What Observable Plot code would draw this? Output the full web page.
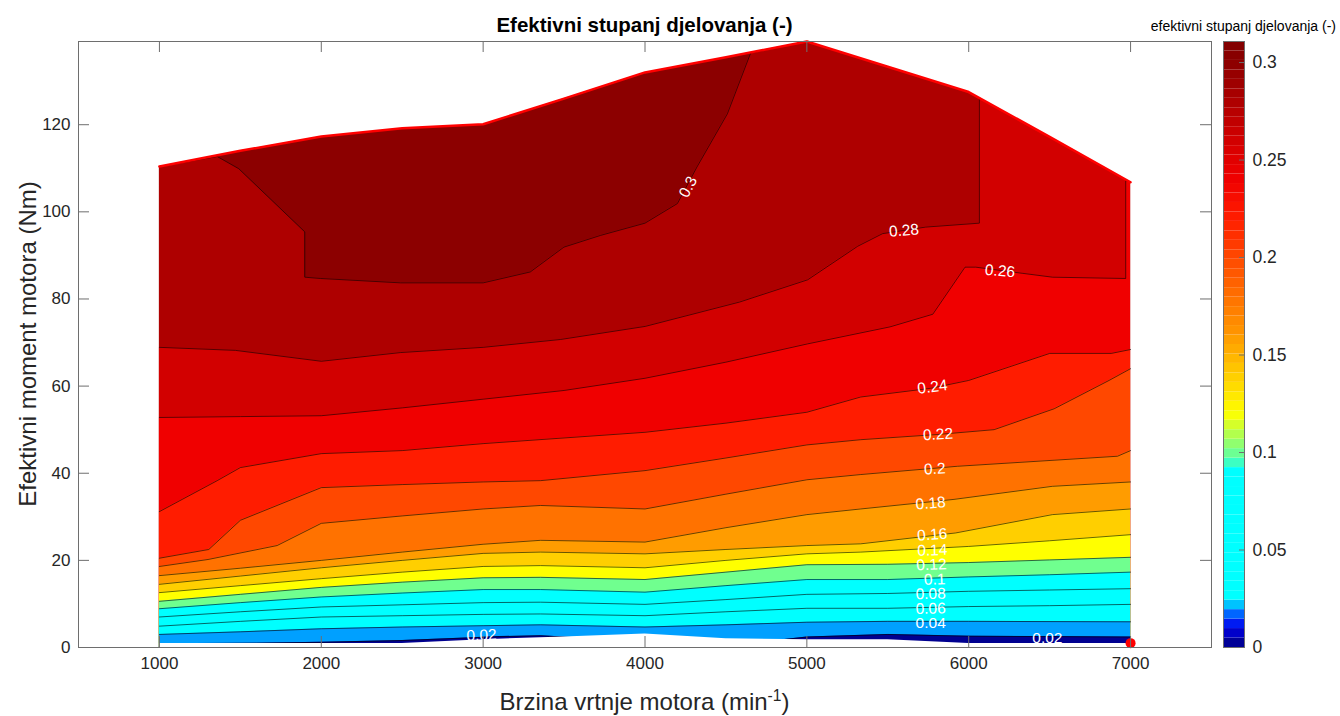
<!DOCTYPE html>
<html><head><meta charset="utf-8">
<script src="https://cdn.jsdelivr.net/npm/d3@7"></script>
<script src="https://cdn.jsdelivr.net/npm/@observablehq/plot@0.6"></script>
<style>
html,body{margin:0;padding:0;background:#fff;overflow:hidden;}
#fig{position:relative;width:1340px;height:716px;font-family:"Liberation Sans",Arial,Helvetica,sans-serif;color:#000;}
#fig .abs{position:absolute;white-space:nowrap;line-height:1;}
#fig svg{position:absolute;top:0;}
</style></head><body>
<div id="fig"></div>
<script>
// ---- data ----
const speedTicks = [1000,2000,3000,4000,5000,6000,7000];
const torqueTicks = [0,20,40,60,80,100,120];
const cbTicks = [0,0.05,0.1,0.15,0.2,0.25,0.3];
const levels = [0.02,0.04,0.06,0.08,0.10,0.12,0.14,0.16,0.18,0.20,0.22,0.24,0.26,0.28,0.30];
const bandColors = ["#000090","#00a0ff","#00ffff","#00ffff","#00ffff","#70ff8f","#ffff00","#ffcf00","#ff9c00","#ff7200","#ff4800","#ff1c00","#f00000","#d20000","#ae0000","#8c0000"];
const cbStops  = [0,0.005,0.01,0.015,0.02,0.025,0.09,0.095,0.1,0.12,0.14,0.16,0.18,0.2,0.22,0.24,0.26,0.28,0.3,0.311];
const cbColors = ["#000080","#0000b0","#0000e8","#0040ff","#00a0ff","#00ffff","#00ffff","#40ffbf","#70ff8f","#ffff00","#ffcc00","#ff9900","#ff7000","#ff4800","#ff1c00","#f00000","#d20000","#ae0000","#8c0000","#800000"];

// maximum torque curve (red line)
const envSpeed  = [1000,1500,2000,2500,3000,3500,4000,4500,5000,5500,6000,6500,7000];
const envTorque = [110.4,114.0,117.3,119.2,120.1,126.0,132.0,135.5,139.1,133.3,127.5,117.2,106.8];
// lowest measured torque (lower edge of the map)
const minSpeed  = [1000,2500,3000,3500,4000,4500,5000,5500,6000,7000];
const minTorque = [0.9,0.9,1.8,2.4,3.1,2.0,1.8,1.8,0.9,0.9];

// contour lines [speed, torque]
const iso002 = [[1000,0.3],[1200,0.9],[1600,1.0],[2000,1.2],[2500,1.6],[2900,2.2],[3100,2.5],[3355,2.7],[3550,2.3],[4000,2.0],[4500,1.5],[4850,1.8],[5000,2.4],[5500,3.0],[6000,2.6],[6500,2.5],[7000,2.4]];
const iso004 = [[1000,3.0],[1500,3.6],[2000,4.3],[2500,4.7],[3000,5.0],[3355,5.2],[4000,4.7],[4500,5.2],[5000,5.8],[5500,6.0],[6000,6.0],[7000,5.9]];
const iso006 = [[1000,4.9],[1500,6.0],[2000,7.0],[2500,7.3],[3000,7.6],[3355,7.7],[4000,7.3],[4500,8.2],[5000,9.0],[5500,9.0],[6000,9.4],[6500,9.6],[7000,9.9]];
const iso008 = [[1000,7.0],[1500,8.2],[2000,9.3],[2500,9.8],[3000,10.3],[3355,10.4],[4000,9.9],[4500,11.0],[5000,12.2],[5500,12.4],[6000,12.9],[6500,13.2],[7000,13.5]];
const iso010 = [[1000,8.9],[1500,10.3],[2000,11.6],[2500,12.5],[3000,13.3],[3355,13.3],[4000,12.7],[4500,14.2],[5000,15.6],[5500,15.6],[6000,16.2],[6500,16.7],[7000,17.3]];
const iso012 = [[1000,10.6],[1500,12.2],[2000,13.8],[2500,15.0],[3000,16.0],[3355,16.1],[4000,15.6],[4500,17.3],[5000,19.0],[5500,19.1],[6000,19.5],[6500,20.1],[7000,20.7]];
const iso014 = [[1000,12.6],[1500,14.2],[2000,15.8],[2500,17.3],[3000,18.6],[3355,18.8],[4000,18.3],[4500,20.0],[5000,21.5],[5333,21.9],[6000,23.2],[6500,24.5],[7000,25.9]];
const iso016 = [[1000,14.5],[1500,16.4],[2000,18.3],[2500,20.0],[3000,21.6],[3355,21.9],[4000,21.5],[4500,22.5],[5000,23.4],[5333,23.8],[5920,26.3],[6517,30.5],[7000,31.8]];
const iso018 = [[1000,16.5],[1500,18.2],[2000,20.0],[2500,21.9],[3000,23.7],[3355,24.6],[4000,24.2],[4500,27.5],[5000,30.5],[5333,31.8],[5909,34.0],[6517,37.0],[7000,38.0]];
const iso020 = [[1000,18.6],[1300,20.2],[1727,23.4],[2000,28.5],[2500,30.2],[3000,31.8],[3355,32.6],[4000,31.8],[4500,35.2],[5000,38.5],[5333,39.7],[5930,41.6],[6919,43.9],[7000,45.2]];
const iso022 = [[1000,20.5],[1305,22.5],[1500,29.2],[2000,36.7],[2500,37.4],[3000,38.0],[3355,38.3],[4000,40.6],[4500,43.5],[5000,46.5],[5333,47.7],[5810,48.9],[6157,50.0],[6528,54.8],[6867,61.3],[7000,64.0]];
const iso024 = [[1000,31.2],[1357,38.3],[1500,41.3],[2000,44.5],[2500,45.2],[3000,46.8],[4000,49.4],[4500,51.5],[5000,54.0],[5333,57.5],[5765,59.5],[6000,61.3],[6500,67.5],[6880,67.5],[7000,68.4]];
const iso026 = [[1000,52.8],[1500,53.0],[2000,53.2],[2500,55.0],[3000,57.0],[3500,59.0],[4000,61.8],[4500,65.5],[5005,69.7],[5514,73.6],[5778,76.5],[5977,87.3],[6043,87.3],[6330,85.9],[6518,85.0],[6970,84.7],[6970,107.2],[7000,106.8]];
const iso028 = [[1000,68.9],[1470,68.2],[2000,65.7],[2490,67.7],[3000,68.9],[3478,70.7],[4001,73.7],[4585,79.3],[5005,84.4],[5314,92.1],[5468,95.0],[5734,96.5],[6066,97.4],[6066,126.1],[6500,117.2],[7000,106.8]];
const iso030 = [[1000,110.4],[1357,112.7],[1490,109.9],[1898,95.4],[1898,85.0],[1995,84.7],[2490,83.7],[3000,83.7],[3291,86.2],[3499,91.9],[3726,94.6],[4000,97.4],[4200,101.9],[4321,110.3],[4509,122.5],[4653,136.5],[5000,139.1],[5500,133.3],[6000,127.5],[6500,117.2],[7000,106.8]];
const isolines = [iso002,iso004,iso006,iso008,iso010,iso012,iso014,iso016,iso018,iso020,iso022,iso024,iso026,iso028,iso030];

// inline contour labels
const labelText  = ["0.3","0.28","0.26","0.24","0.22","0.2","0.18","0.16","0.14","0.12","0.1","0.08","0.06","0.04","0.02","0.02"];
const labelSpeed = [4266,5600,6193,5776,5810,5790,5765,5775,5775,5770,5790,5765,5765,5765,6486,2990];
const labelTorque= [105.7,95.7,86.4,59.8,48.9,41.0,33.1,25.9,22.3,19.0,15.6,12.3,8.9,5.6,2.2,2.8];
const labelAngle = [-62,-5,5,-7,-3,-3,-5,-4,-2,-2,-1,-1,-1,0,0,-3];

const markerPoint = [[7000,1.0]];

// ---- layout ----
const W = 1340, H = 716, mL = 78, mR = 129, mT = 41, mB = 69;
const fw = W - mL - mR, fh = H - mT - mB, tick = 11;
const yTop = 139.1;
const axisCol = "#6e6e6e", textCol = "#262626";
const font = "Liberation Sans, Arial, Helvetica, sans-serif";

const env = envSpeed.map((s,i)=>({s, t: envTorque[i]}));
const bottom = minSpeed.map((s,i)=>({s, t: minTorque[i]}));
const labels = labelText.map((t,i)=>({t, s: labelSpeed[i], v: labelTorque[i], r: labelAngle[i]}));

const marks = [];
// region above the 0.30 contour
marks.push(Plot.areaY(env, {x:"s", y1: () => 0, y2:"t", fill: () => 0.305, clip:true}));
// bands, painted from the highest level down
for (let i = levels.length - 1; i >= 0; i--) {
  const mid = levels[i] - 0.01;
  marks.push(Plot.areaY(isolines[i], {x: d=>d[0], y1: () => 0, y2: d=>d[1], fill: () => mid, clip:true}));
}
for (let i = 0; i < levels.length; i++) {
  marks.push(Plot.line(isolines[i], {x: d=>d[0], y: d=>d[1], stroke:"#000", strokeWidth:0.6, clip:true}));
}
// blank outside the measured envelope
marks.push(Plot.areaY(env, {x:"s", y1:"t", y2: () => yTop + 5, fill:"white", clip:true}));
marks.push(Plot.areaY(bottom, {x:"s", y1: () => 0, y2:"t", fill:"white", clip:true}));
// max torque line and marker
marks.push(Plot.line(env, {x:"s", y:"t", stroke:"#ff0000", strokeWidth:2.5}));
marks.push(Plot.dot(markerPoint, {x: d=>d[0], y: d=>d[1], r:5, fill:"#ff0000"}));
// contour labels
marks.push(Plot.text(labels, {x:"s", y:"v", text:"t", rotate:"r", fill:"white", fontSize:15.5}));
// ticks (inward), frame, tick labels
marks.push(Plot.ruleX(speedTicks, {x: d=>d, insetTop: fh - tick, stroke: axisCol}));
marks.push(Plot.ruleX(speedTicks, {x: d=>d, insetBottom: fh - tick, stroke: axisCol}));
marks.push(Plot.ruleY(torqueTicks, {y: d=>d, insetRight: fw - tick, stroke: axisCol}));
marks.push(Plot.ruleY(torqueTicks, {y: d=>d, insetLeft: fw - tick, stroke: axisCol}));
marks.push(Plot.frame({stroke: axisCol}));
marks.push(Plot.axisX({ticks: speedTicks, tickSize:0, tickPadding:9, fontSize:17, tickFormat: d=>String(d), label:null, fill:textCol}));
marks.push(Plot.axisY({ticks: torqueTicks, tickSize:0, tickPadding:8, fontSize:17, tickFormat: d=>String(d), label:null, fill:textCol}));

const main = Plot.plot({
  width: W, height: H, marginLeft: mL, marginRight: mR, marginTop: mT, marginBottom: mB,
  style: {fontFamily: font, fontSize: "17px", background: "transparent", overflow: "visible"},
  x: {domain: [500, 7500]},
  y: {domain: [0, yTop]},
  color: {type: "threshold", domain: levels, range: bandColors},
  marks
});

// colorbar
const cbMax = 0.3108, nSteps = 64, stepH = cbMax / nSteps;
const steps = d3.range(nSteps).map(i => i * stepH);
const cbLeft = 1223, cbW = 21, cbSvgLeft = 1200, cbSvgW = 140;
const cbar = Plot.plot({
  width: cbSvgW, height: H, marginLeft: cbLeft - cbSvgLeft, marginRight: cbSvgW - (cbLeft - cbSvgLeft) - cbW, marginTop: mT, marginBottom: mB,
  style: {fontFamily: font, fontSize: "17px", background: "transparent", overflow: "visible"},
  x: {domain: [0, 1], axis: null},
  y: {domain: [0, cbMax], axis: null},
  color: {type: "linear", domain: cbStops, range: cbColors, interpolate: "rgb"},
  marks: [
    Plot.rect(steps, {x1: () => 0, x2: () => 1, y1: d=>d, y2: d=>d + stepH, fill: d=>d + stepH/2}),
    Plot.ruleY(cbTicks, {y: d=>d, insetLeft: cbW - 5, stroke: axisCol}),
    Plot.frame({stroke: axisCol}),
    Plot.axisY({ticks: cbTicks, anchor: "right", tickSize: 0, tickPadding: 8, fontSize: 17.5, tickFormat: d=>String(d), label: null, fill: textCol})
  ]
});
cbar.style.left = cbSvgLeft + "px";

const fig = document.getElementById("fig");
fig.appendChild(main);
fig.appendChild(cbar);

function addText(html, css) {
  const d = document.createElement("div");
  d.className = "abs";
  d.innerHTML = html;
  Object.assign(d.style, css);
  fig.appendChild(d);
  return d;
}
addText("Efektivni stupanj djelovanja (-)", {left: "0px", width: (2*(mL + fw/2)) + "px", textAlign: "center", top: "15px", fontSize: "20.5px", fontWeight: "bold", color: "#000"});
addText("Brzina vrtnje motora (min<sup style='font-size:65%;vertical-align:0.55em'>-1</sup>)", {left: "0px", width: (2*(mL + fw/2)) + "px", textAlign: "center", top: "688px", fontSize: "24px", color: textCol});
addText("Efektivni moment motora (Nm)", {left: "28px", top: (mT + fh/2) + "px", fontSize: "24px", color: textCol, transform: "translate(-50%,-50%) rotate(-90deg)"});
addText("efektivni stupanj djelovanja (-)", {right: "4px", top: "19px", fontSize: "14px", color: "#000"});
</script>
</body></html>
